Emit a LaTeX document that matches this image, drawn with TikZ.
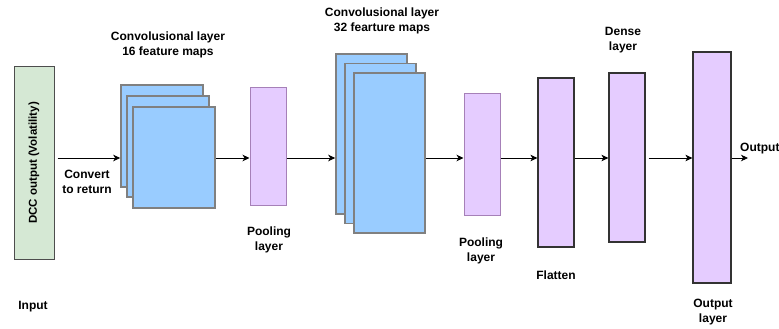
\documentclass[tikz,border=0pt]{standalone}
\usepackage{fontspec}
\setmainfont{Liberation Sans}
\usetikzlibrary{arrows, arrows.meta, shapes, positioning}

\definecolor{inputfill}{HTML}{D5E8D4}
\definecolor{inputline}{HTML}{4D4D4D}
\definecolor{mapfill}{HTML}{99CCFF}
\definecolor{mapline}{HTML}{808080}
\definecolor{layerfill}{HTML}{E5CCFF}
\definecolor{poolline}{HTML}{A680B8}
\definecolor{denseline}{HTML}{333333}

\tikzset{
  txt/.style={font=\fontsize{12}{15}\selectfont\bfseries, align=center, inner sep=1pt},
  inbox/.style={draw=inputline, fill=inputfill, line width=1pt, inner sep=0pt},
  mapbox/.style={draw=mapline, fill=mapfill, line width=1.6pt, minimum width=82pt, inner sep=0pt},
  mapbox2/.style={draw=mapline, fill=mapfill, line width=1.6pt, minimum width=71pt, minimum height=160pt, inner sep=0pt},
  poolbox/.style={draw=poolline, fill=layerfill, line width=1pt, minimum width=36pt, inner sep=0pt},
  densebox/.style={draw=denseline, fill=layerfill, line width=1.2pt, minimum width=36pt, inner sep=0pt},
  flow/.style={-{Stealth[length=7pt, width=6.5pt, inset=2pt]}, line width=0.8pt}
}

\begin{document}
\begin{tikzpicture}[x=1pt, y=-1pt]
  \useasboundingbox (0,0) rectangle (779,329);
  \coordinate (axis) at (0,158);

  \node[inbox, rotate=90, minimum width=192pt, minimum height=40pt] (input) at (34,163)
    {\fontsize{11.5}{13}\selectfont\bfseries DCC output (Volatility)};

  % first stack of maps
  \node[mapbox, minimum height=102pt] (convA1) at (162,136) {};
  \node[mapbox, minimum height=101pt] (convA2) at (168,146.5) {};
  \node[mapbox, minimum height=101pt] (convA3) at (174,157.5) {};

  \node[poolbox, minimum height=118pt] (poolA) at (268,146) {};

  % second stack of maps
  \node[mapbox2] (convB1) at (371.5,134) {};
  \node[mapbox2] (convB2) at (380.5,143.5) {};
  \node[mapbox2] (convB3) at (389.5,153) {};

  \node[poolbox, minimum height=122pt] (poolB) at (482,154) {};
  \node[densebox, minimum height=169pt] (flat) at (556,162.5) {};
  \node[densebox, minimum height=169pt] (dense) at (627,157.5) {};
  \node[densebox, minimum width=38pt, minimum height=231pt] (outl) at (712,167.5) {};

  \coordinate (outend) at (748,158);

  \draw[flow, shorten <=3pt] (input.south |- axis) -- (convA1.west |- axis);
  \draw[flow] (convA3.east |- axis) -- (poolA.west |- axis);
  \draw[flow] (poolA.east |- axis) -- (convB1.west |- axis);
  \draw[flow] (convB3.east |- axis) -- (poolB.west |- axis);
  \draw[flow] (poolB.east |- axis) -- (flat.west |- axis);
  \draw[flow] (flat.east |- axis) -- (dense.west |- axis);
  \draw[flow, shorten <=3pt] (dense.east |- axis) -- (outl.west |- axis);
  \draw[flow] (outl.east |- axis) -- (outend);

  %labels
  \node[txt] (convAlbl) at (168,45) {Convolusional layer\\16 feature maps};
  \node[txt] (convBlbl) at (382,21) {Convolusional layer\\32 fearture maps};
  \node[txt] (convert) at (87,182) {Convert\\to return};
  \node[txt] (poolAlbl) at (269,240) {Pooling\\layer};
  \node[txt] (poolBlbl) at (481,251) {Pooling\\layer};
  \node[txt] (flatlbl) at (556,275) {Flatten};
  \node[txt] (denselbl) at (623,40) {Dense\\layer};
  \node[txt] (outllbl) at (713,312) {Output\\layer};
  \node[txt] (inlbl) at (33,307) {Input};
  \node[txt, anchor=west] (outlbl) at (739,149) {Output};
\end{tikzpicture}
\end{document}
